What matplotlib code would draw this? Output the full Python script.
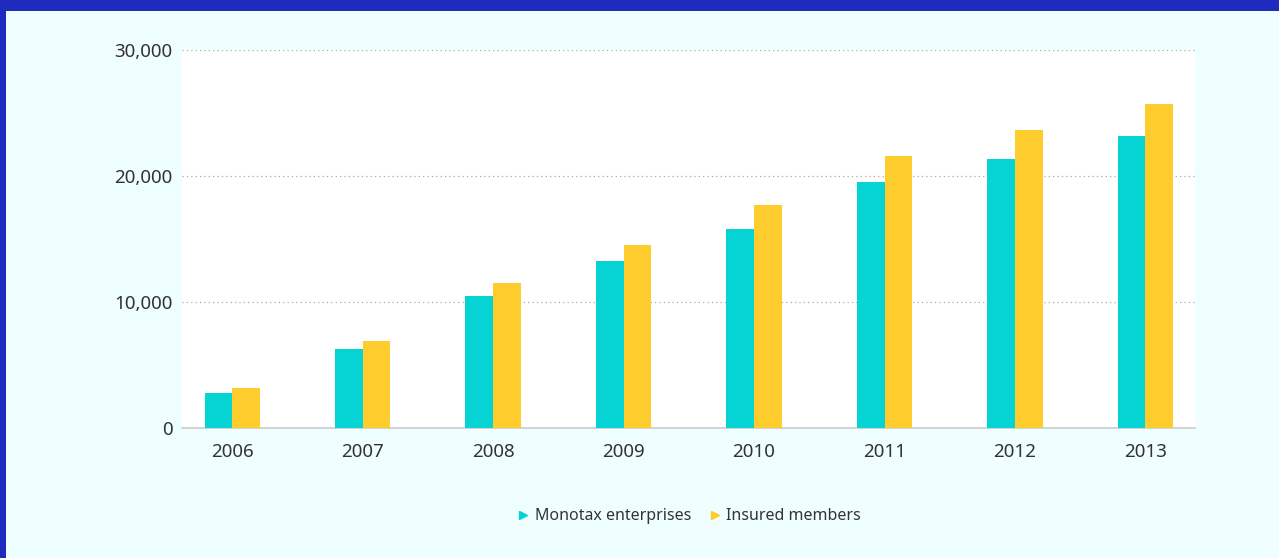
import matplotlib
matplotlib.use("Agg")
import matplotlib.pyplot as plt
from matplotlib.patches import Rectangle
from matplotlib.lines import Line2D
import numpy as np

years = ["2006", "2007", "2008", "2009", "2010", "2011", "2012", "2013"]
monotax = [2800, 6300, 10500, 13250, 15800, 19550, 21350, 23200]
insured = [3200, 6900, 11500, 14550, 17700, 21600, 23650, 25700]
series_names = ["Monotax enterprises", "Insured members"]
yticks = [0, 10000, 20000, 30000]

c_cyan = "#06d4d4"
c_yellow = "#ffcc2e"
bg = "#effefe"
blue = "#1f2bbf"
txt = "#333333"

plt.rcParams['font.family'] = ['Noto Sans', 'DejaVu Sans']

W, H = 1279, 558
fig = plt.figure(figsize=(W / 100, H / 100), dpi=100)
fig.patch.set_facecolor(bg)

# blue frame (top band and left strip)
fig.patches.append(Rectangle((0, 1 - 11 / H), 1, 11 / H, transform=fig.transFigure,
                             facecolor=blue, edgecolor='none', zorder=0))
fig.patches.append(Rectangle((0, 0), 6 / W, 1, transform=fig.transFigure,
                             facecolor=blue, edgecolor='none', zorder=0))

left, right = 182, 1195
top, bottom = 50, 428
ax = fig.add_axes([left / W, 1 - bottom / H, (right - left) / W, (bottom - top) / H])
ax.set_facecolor("white")

x = np.arange(len(years))
bw = 0.212
ax.bar(x - bw / 2, monotax, width=bw, color=c_cyan, zorder=3)
ax.bar(x + bw / 2, insured, width=bw, color=c_yellow, zorder=3)

ax.set_xlim(-0.385, len(years) - 1 + 0.38)
ax.set_ylim(0, 30000)
ax.set_yticks(yticks)
ax.set_yticklabels([f"{v:,}" for v in yticks])
ax.set_xticks(x)
ax.set_xticklabels(years)
ax.tick_params(axis='both', length=0, labelsize=13.5, colors=txt, labelcolor=txt)
ax.tick_params(axis='y', pad=7)
ax.tick_params(axis='x', pad=10.5)
ax.yaxis.grid(True, linestyle=(0, (1, 2.5)), color="#aaaaaa", linewidth=0.9, zorder=0)
for s in ["top", "right", "left"]:
    ax.spines[s].set_visible(False)
ax.spines["bottom"].set_color("#cccccc")
ax.spines["bottom"].set_linewidth(1.2)

handles = [Line2D([], [], marker='>', linestyle='none', color=c_cyan, markersize=6),
           Line2D([], [], marker='>', linestyle='none', color=c_yellow, markersize=6)]
fig.legend(handles, series_names, loc='center', bbox_to_anchor=(689 / W, 1 - 516.5 / H),
           ncol=2, frameon=False, fontsize=11.5, labelcolor=txt, handletextpad=0.3,
           columnspacing=1.1, handlelength=0.8)

fig.savefig("out.png", dpi=100, facecolor=fig.get_facecolor())
